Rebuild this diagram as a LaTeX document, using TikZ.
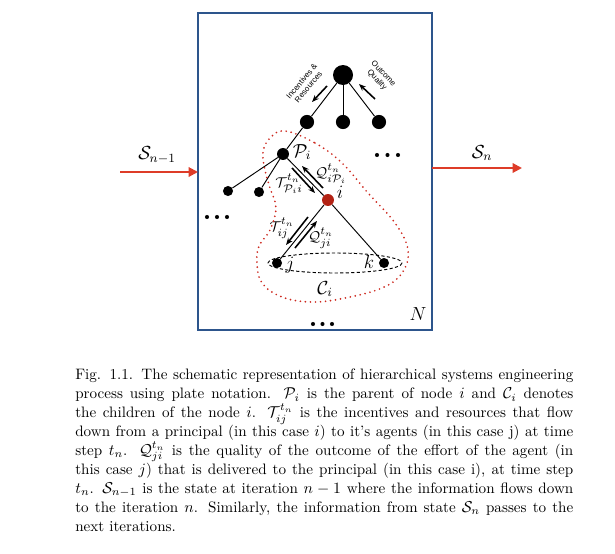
\documentclass[tikz,border=0pt]{standalone}
\usepackage{fontspec}
\newfontfamily\arialf{Liberation Sans}
\usetikzlibrary{arrows.meta}
\definecolor{plateblue}{RGB}{45,85,140}
\definecolor{arrred}{RGB}{222,60,40}
\definecolor{nodered}{RGB}{178,34,20}
\definecolor{dotred}{RGB}{205,40,30}
\tikzset{
  dot/.style={circle,fill=black,inner sep=0pt},
  tree/.style={line width=0.6pt},
  flow/.style={line width=1pt,-{Stealth[length=4.5pt,width=3.5pt]}},
  statearr/.style={arrred,line width=1.3pt,-{Triangle[length=6pt,width=6pt]}},
  lbl/.style={inner sep=0pt,font=\fontsize{12}{14}\selectfont},
  flbl/.style={inner sep=0pt,font=\fontsize{9.5}{11}\selectfont},
  ell/.style={dashed,line width=0.6pt,dash pattern=on 2pt off 1.5pt},
  reddot/.style={dotred,line width=1.2pt,line cap=round,dash pattern=on 0pt off 3.2pt},
  small/.style={font=\arialf\fontsize{5}{5.6}\selectfont,align=center,inner sep=0pt},
  ed/.style={circle,fill=black,inner sep=0pt,minimum size=2.6pt}
}
\begin{document}
\begin{tikzpicture}[x=0.635pt,y=-0.635pt]
\useasboundingbox (0,0) rectangle (615,553);
% plate
\draw[plateblue,line width=1.4pt] (198,13) rectangle (432,330);
% top tree
\node[dot,minimum size=12.7pt] (root) at (343,75) {};
\node[dot,minimum size=9pt] (c1) at (307,122) {};
\node[dot,minimum size=9pt] (c2) at (343,122) {};
\node[dot,minimum size=9pt] (c3) at (379,122) {};
\draw[tree] (root) -- (c1);
\draw[tree] (root) -- (c2);
\draw[tree] (root) -- (c3);
\coordinate (ir1) at (327,86); \coordinate (ir2) at (312,102);
\coordinate (oq1) at (375,99); \coordinate (oq2) at (359,84);
\draw[flow] (ir1) -- (ir2);
\draw[flow] (oq1) -- (oq2);
\node[small,rotate=50] (inc) at (305,84) {Incentives \&\\Resources};
\node[small,rotate=-47] (outq) at (380,77) {Outcome\\Quality};
% P_i and siblings
\node[dot,minimum size=7.6pt] (Pi) at (283,154) {};
\node[dot,minimum size=6.4pt] (a) at (228,191) {};
\node[dot,minimum size=6.4pt] (b) at (259,192) {};
\node[circle,fill=nodered,inner sep=0pt,minimum size=7.6pt] (i) at (328,200) {};
\node[dot,minimum size=6.4pt] (j) at (277,263) {};
\node[dot,minimum size=6.4pt] (k) at (384,263) {};
\draw[tree] (c1) -- (Pi);
\draw[tree] (Pi) -- (a);
\draw[tree] (Pi) -- (b);
\draw[tree] (Pi) -- (i);
\draw[tree] (i) -- (j);
\draw[tree] (i) -- (k);
% labels
\node[lbl] (lPi) at (302,152) {$\mathcal{P}_i$};
\node[lbl] (li) at (340,192) {$i$};
\node[lbl] (lj) at (290,265) {$j$};
\node[lbl] (lk) at (369,262) {$k$};
\node[lbl] (lCi) at (325,289) {$\mathcal{C}_i$};
\node[lbl] (lN) at (418,314) {$N$};
% flows P_i <-> i
\coordinate (t1) at (292,168); \coordinate (t2) at (315,193);
\coordinate (q1) at (323,188); \coordinate (q2) at (302,166);
\draw[flow] (t1) -- (t2);
\draw[flow] (q1) -- (q2);
\node[flbl] (lT1) at (289,184) {$\mathcal{T}^{t_n}_{\mathcal{P}_i i}$};
\node[flbl] (lQ1) at (331,174) {$\mathcal{Q}^{t_n}_{i\mathcal{P}_i}$};
% flows i <-> j
\coordinate (t3) at (308,217); \coordinate (t4) at (286,245);
\coordinate (q3) at (295,248); \coordinate (q4) at (317,221);
\draw[flow] (t3) -- (t4);
\draw[flow] (q3) -- (q4);
\node[flbl] (lT2) at (282,228) {$\mathcal{T}^{t_n}_{ij}$};
\node[flbl] (lQ2) at (321,238) {$\mathcal{Q}^{t_n}_{ji}$};
% children ellipse
\draw[ell] (335,263) ellipse [x radius=67, y radius=10];
% red dotted blob
\draw[reddot] plot[smooth cycle,tension=0.65] coordinates {
 (285,131) (315,143) (342,163) (368,193) (395,223) (408,250) (402,273)
 (382,288) (345,298) (312,302) (282,297) (262,283) (257,263) (259,246)
 (270,230) (276,208) (270,188) (265,170) (263,152) (270,138)};
% ellipsis dots
\foreach \n/\x/\y in {r1/377/155,r2/387.5/155,r3/398/155,
                      l1/207/217,l2/217/217,l3/227/217,
                      b1/313/324,b2/322.5/324,b3/332/324}
  \node[ed] (e\n) at (\x,\y) {};
% state arrows
\coordinate (sl) at (120,172); \coordinate (sle) at (198,172);
\coordinate (sr) at (432,168); \coordinate (sre) at (522,168);
\draw[statearr] (sl) -- (sle);
\draw[statearr] (sr) -- (sre);
\node[lbl] (lS1) at (157,155) {$\mathcal{S}_{n-1}$};
\node[lbl] (lS2) at (482,153) {$\mathcal{S}_n$};
% caption
\node[anchor=north west,inner sep=0pt,text width=498*0.635pt,align=justify,
      font=\fontsize{9.6}{12}\selectfont] (cap) at (75,369) {%
Fig. 1.1. The schematic representation of hierarchical systems engineering\linebreak
process using plate notation. $\mathcal{P}_i$ is the parent of node $i$ and $\mathcal{C}_i$ denotes\linebreak
the children of the node $i$. $\mathcal{T}_{ij}^{t_n}$ is the incentives and resources that flow\linebreak
down from a principal (in this case $i$) to it's agents (in this case j) at time\linebreak
step $t_n$. $\mathcal{Q}_{ji}^{t_n}$ is the quality of the outcome of the effort of the agent (in\linebreak
this case $j$) that is delivered to the principal (in this case i), at time step\linebreak
$t_n$. $\mathcal{S}_{n-1}$ is the state at iteration $n-1$ where the information flows down\linebreak
to the iteration $n$. Similarly, the information from state $\mathcal{S}_n$ passes to the\linebreak
next iterations.};
\end{tikzpicture}
\end{document}
